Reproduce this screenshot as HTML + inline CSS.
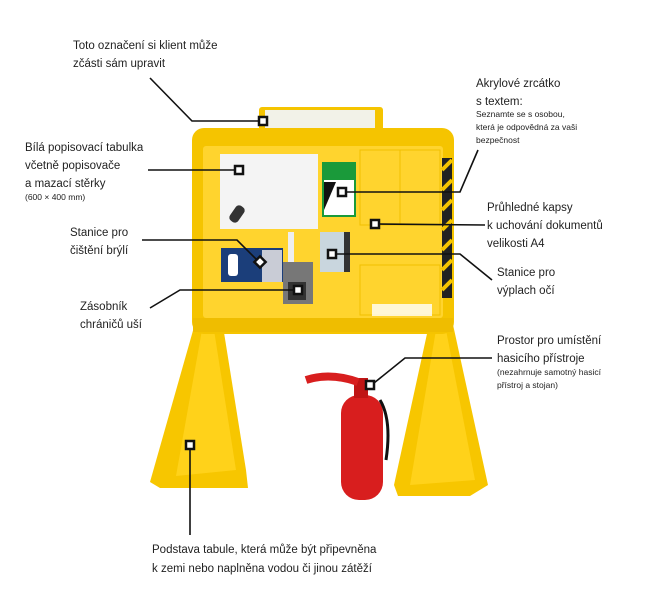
<!DOCTYPE html>
<html><head><meta charset="utf-8"><style>
body{margin:0;background:#fff;}
svg{display:block}
text{font-family:"Liberation Sans",sans-serif;font-size:11.5px;fill:#222}
.s{font-size:8.5px}
</style></head><body>
<svg width="656" height="603" viewBox="0 0 656 603" xmlns="http://www.w3.org/2000/svg">
<polygon points="196,320 222,320 246,470 248,488 160,488 150,482" fill="#f7c600"/>
<polygon points="202,330 214,330 236,470 176,476" fill="#ffd21a"/>
<polygon points="430,320 452,320 488,485 470,496 398,496 394,485" fill="#f7c600"/>
<polygon points="436,330 446,330 475,480 410,485" fill="#ffd21a"/>
<rect x="259" y="107" width="124" height="26" rx="3" fill="#f5c400"/>
<rect x="265" y="110" width="110" height="20" fill="#f2f2e8"/>
<rect x="192" y="128" width="262" height="206" rx="12" fill="#f5c400"/>
<rect x="203" y="146" width="240" height="172" rx="3" fill="#ffd42e"/>
<rect x="193" y="318" width="260" height="14" fill="#efbd00"/>
<rect x="442" y="158" width="10" height="140" fill="#222"/>
<g stroke="#f5c400" stroke-width="4">
<line x1="442" y1="170" x2="452" y2="160"/><line x1="442" y1="190" x2="452" y2="180"/><line x1="442" y1="210" x2="452" y2="200"/><line x1="442" y1="230" x2="452" y2="220"/><line x1="442" y1="250" x2="452" y2="240"/><line x1="442" y1="270" x2="452" y2="260"/><line x1="442" y1="290" x2="452" y2="280"/></g>
<g stroke="#f0c000" fill="none"><rect x="360" y="150" width="40" height="75"/><rect x="400" y="150" width="40" height="75"/><rect x="360" y="265" width="80" height="50"/></g>
<rect x="372" y="304" width="60" height="12" fill="#fff" opacity=".8"/>
<rect x="220" y="154" width="98" height="75" fill="#f4f4f4"/>
<rect x="232" y="205" width="10" height="18" rx="4" fill="#333" transform="rotate(35 237 214)"/>
<rect x="322" y="162" width="34" height="55" fill="#1a9a3a"/>
<rect x="324" y="180" width="30" height="35" fill="#fff"/>
<polygon points="324,182 336,182 324,210" fill="#111"/>
<rect x="320" y="232" width="28" height="40" fill="#c9d6de"/>
<rect x="344" y="232" width="6" height="40" fill="#333"/>
<rect x="221" y="248" width="62" height="34" fill="#1b3e7a"/>
<rect x="228" y="254" width="10" height="22" rx="3" fill="#fff"/>
<rect x="262" y="250" width="20" height="32" fill="#c9ccd6"/>
<rect x="288" y="232" width="6" height="50" fill="#eee"/>
<rect x="283" y="262" width="30" height="42" fill="#777"/>
<rect x="288" y="282" width="18" height="18" fill="#333"/>
<rect x="341" y="395" width="42" height="105" rx="18" fill="#d81e1e"/>
<rect x="354" y="378" width="14" height="20" fill="#c01515"/>
<path d="M358,382 Q330,372 306,380" stroke="#d81e1e" stroke-width="8" fill="none"/>
<path d="M380,400 Q392,420 386,460" stroke="#111" stroke-width="3" fill="none"/>
<g stroke="#111" stroke-width="1.6" fill="none">
<polyline points="150,78 192,121 259,121"/>
<polyline points="148,170 235,170"/>
<polyline points="142,240 237,240 257,260"/>
<polyline points="150,308 180,290 294,290"/>
<polyline points="478,150 460,192 346,192"/>
<polyline points="485,225 379,224"/>
<polyline points="492,280 460,254 336,254"/>
<polyline points="492,358 405,358 374,383"/>
<polyline points="190,535 190,449"/>
</g>
<g fill="#fff" stroke="#111" stroke-width="2.5">
<rect x="259" y="117" width="8" height="8"/>
<rect x="235" y="166" width="8" height="8"/>
<rect x="256" y="258" width="8" height="8" transform="rotate(45 260 262)"/>
<rect x="294" y="286" width="8" height="8"/>
<rect x="338" y="188" width="8" height="8"/>
<rect x="371" y="220" width="8" height="8"/>
<rect x="328" y="250" width="8" height="8"/>
<rect x="366" y="381" width="8" height="8"/>
<rect x="186" y="441" width="8" height="8"/>
</g>
<text x="73" y="49">Toto označení si klient může</text>
<text x="73" y="67">zčásti sám upravit</text>
<text x="25" y="151">Bílá popisovací tabulka</text>
<text x="25" y="169">včetně popisovače</text>
<text x="25" y="187">a mazací stěrky</text>
<text class="s" x="25" y="200">(600 × 400 mm)</text>
<text x="70" y="236">Stanice pro</text>
<text x="70" y="254">čištění brýlí</text>
<text x="80" y="310">Zásobník</text>
<text x="80" y="328">chráničů uší</text>
<text x="476" y="87">Akrylové zrcátko</text>
<text x="476" y="105">s textem:</text>
<text class="s" x="476" y="117">Seznamte se s osobou,</text>
<text class="s" x="476" y="130">která je odpovědná za vaši</text>
<text class="s" x="476" y="143">bezpečnost</text>
<text x="487" y="211">Průhledné kapsy</text>
<text x="487" y="229">k uchování dokumentů</text>
<text x="487" y="247">velikosti A4</text>
<text x="497" y="276">Stanice pro</text>
<text x="497" y="294">výplach očí</text>
<text x="497" y="344">Prostor pro umístění</text>
<text x="497" y="362">hasicího přístroje</text>
<text class="s" x="497" y="375">(nezahrnuje samotný hasicí</text>
<text class="s" x="497" y="388">přístroj a stojan)</text>
<text x="152" y="553">Podstava tabule, která může být připevněna</text>
<text x="152" y="572">k zemi nebo naplněna vodou či jinou zátěží</text>
</svg>
</body></html>
